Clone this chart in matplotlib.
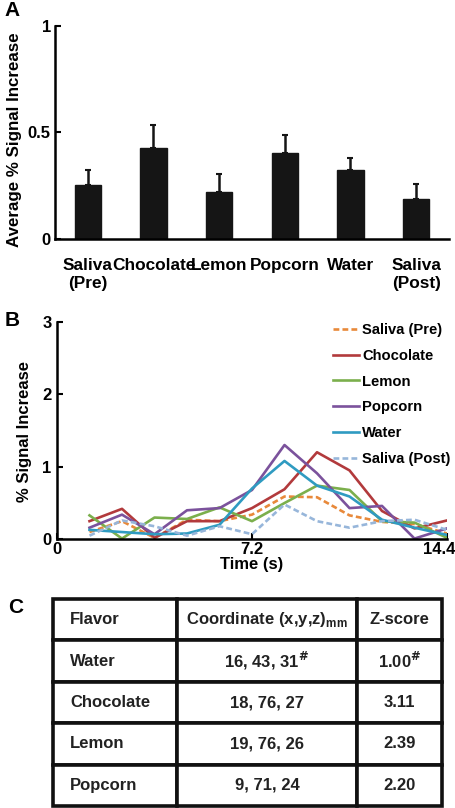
import matplotlib
matplotlib.use("Agg")
import matplotlib.pyplot as plt
import matplotlib.transforms as mtransforms
import numpy as np

plt.rcParams['font.family'] = ['Liberation Sans', 'DejaVu Sans']
plt.rcParams['font.weight'] = 'bold'
plt.rcParams['mathtext.default'] = 'bf'

# ---- Panel A data ----
categories = ["Saliva\n(Pre)", "Chocolate", "Lemon", "Popcorn", "Water", "Saliva\n(Post)"]
bar_means = [0.252, 0.425, 0.221, 0.403, 0.324, 0.188]
bar_errs = [0.074, 0.108, 0.085, 0.087, 0.058, 0.071]

# ---- Panel B data ----
time_s = [1.2, 2.4, 3.6, 4.8, 6.0, 7.2, 8.4, 9.6, 10.8, 12.0, 13.2, 14.4]
saliva_pre = [0.10, 0.25, 0.02, 0.27, 0.25, 0.34, 0.59, 0.58, 0.33, 0.24, 0.21, 0.08]
chocolate = [0.25, 0.42, 0.02, 0.25, 0.25, 0.43, 0.69, 1.20, 0.95, 0.39, 0.15, 0.26]
lemon = [0.33, 0.01, 0.30, 0.28, 0.44, 0.25, 0.50, 0.74, 0.68, 0.25, 0.23, 0.02]
popcorn = [0.16, 0.34, 0.07, 0.40, 0.43, 0.68, 1.30, 0.91, 0.43, 0.46, 0.01, 0.15]
water = [0.13, 0.10, 0.07, 0.08, 0.20, 0.70, 1.08, 0.74, 0.59, 0.27, 0.16, 0.06]
saliva_post = [0.05, 0.26, 0.18, 0.05, 0.18, 0.07, 0.48, 0.25, 0.16, 0.25, 0.27, 0.13]
series_names = ["Saliva (Pre)", "Chocolate", "Lemon", "Popcorn", "Water", "Saliva (Post)"]
x_ticks_b = [0, 7.2, 14.4]
x_ticklabels_b = ["0", "7.2", "14.4"]
y_ticks_b = [0, 1, 2, 3]

# ---- Panel C data ----
table_header = ["Flavor", "Coordinate (x,y,z)$_{\\mathregular{mm}}$", "Z-score"]
flavors = ["Water", "Chocolate", "Lemon", "Popcorn"]
coords = ["16, 43, 31$^{\\#}$", "18, 76, 27", "19, 76, 26", "9, 71, 24"]
zscores = ["1.00$^{\\#}$", "3.11", "2.39", "2.20"]

W, H = 456, 808
fig = plt.figure(figsize=(W / 100, H / 100), dpi=100)

def fx(px):
    return px / W

def fy(py):
    return 1 - py / H

# ===== Panel A =====
axA = fig.add_axes([fx(55), fy(239), fx(449 - 55), (239 - 26) / H])
pos = np.arange(1, len(categories) + 1)
axA.bar(pos, bar_means, width=0.4, color='#151515', edgecolor='#151515', zorder=2)
axA.errorbar(pos, bar_means, yerr=[np.zeros(len(bar_errs)), bar_errs], fmt='none',
             ecolor='#151515', elinewidth=1.8, capsize=2.0, capthick=1.5, zorder=1)
axA.set_xlim(0.5, 6.5)
axA.set_ylim(0, 1)
axA.set_yticks([0, 0.5, 1])
axA.set_yticklabels(["0", "0.5", "1"])
axA.set_xticks(pos)
axA.set_xticklabels(categories, fontsize=12.4, fontweight='bold', linespacing=1.25)
axA.tick_params(axis='x', length=0, pad=14)
axA.tick_params(axis='y', direction='in', length=4, width=1.5, labelsize=12, pad=3)
for s in ['top', 'right']:
    axA.spines[s].set_visible(False)
for s in ['left', 'bottom']:
    axA.spines[s].set_linewidth(1.8)
fig.text(fx(15), fy(140), "Average % Signal Increase", rotation=90, ha='center', va='center',
         fontsize=12.2, fontweight='bold')
fig.text(fx(4), fy(1), "A", ha='left', va='top', fontsize=15, fontweight='bold')

# ===== Panel B =====
axB = fig.add_axes([fx(57), fy(539.3), fx(447 - 57), (539.3 - 321.7) / H])
styles = [
    (saliva_pre, '#E8893A', (0, (2.2, 1.2))),
    (chocolate, '#B23A3C', '-'),
    (lemon, '#7BAF4C', '-'),
    (popcorn, '#7B529C', '-'),
    (water, '#2F9BC1', '-'),
    (saliva_post, '#97B6DA', (0, (2.2, 1.2))),
]
for (vals, col, ls), name in zip(styles, series_names):
    axB.plot(time_s, vals, color=col, linestyle=ls, linewidth=1.9, label=name)
axB.set_xlim(0, 14.4)
axB.set_ylim(0, 3)
axB.set_xticks(x_ticks_b)
axB.set_xticklabels(x_ticklabels_b)
axB.set_yticks(y_ticks_b)
axB.tick_params(axis='both', direction='in', length=4, width=1.5, labelsize=12)
axB.tick_params(axis='x', pad=2)
axB.tick_params(axis='y', pad=4)
# shift the last x tick label left so it stays inside the figure
last_lbl = axB.get_xticklabels()[-1]
last_lbl.set_transform(last_lbl.get_transform() +
                       mtransforms.ScaledTranslation(-8 / 100, 0, fig.dpi_scale_trans))
for s in ['top', 'right']:
    axB.spines[s].set_visible(False)
for s in ['left', 'bottom']:
    axB.spines[s].set_linewidth(1.8)
axB.set_xlabel("Time (s)", fontsize=12, fontweight='bold', labelpad=0)
fig.text(fx(25), fy(431), "% Signal Increase", rotation=90, ha='center', va='center',
         fontsize=12, fontweight='bold')
leg = axB.legend(loc='upper left', bbox_to_anchor=(fx(333), fy(323)), bbox_transform=fig.transFigure,
                 frameon=False, fontsize=10.6, handlelength=1.8, handletextpad=0.2,
                 labelspacing=0.8, borderpad=0, borderaxespad=0)
for t in leg.get_texts():
    t.set_fontweight('bold')
fig.text(fx(5), fy(311), "B", ha='left', va='top', fontsize=15, fontweight='bold')

# ===== Panel C =====
axC = fig.add_axes([fx(53), fy(806), fx(442 - 53), (806 - 599) / H])
axC.axis('off')
cell_text = [[f, c, z] for f, c, z in zip(flavors, coords, zscores)]
tbl = axC.table(cellText=[table_header] + cell_text, colWidths=[124, 180, 85],
                bbox=[0, 0, 1, 1], cellLoc='center')
tbl.auto_set_font_size(False)
for (r, c), cell in tbl.get_celld().items():
    cell.set_linewidth(2.6)
    cell.set_edgecolor('#111111')
    txt = cell.get_text()
    txt.set_fontsize(12)
    txt.set_fontweight('bold')
    txt.set_color('#222222')
    if c == 0:
        cell._loc = 'left'
        txt.set_ha('left')
        cell.PAD = 0.14
fig.text(fx(8), fy(598), "C", ha='left', va='top', fontsize=15, fontweight='bold')

fig.savefig("out.png", dpi=100)
